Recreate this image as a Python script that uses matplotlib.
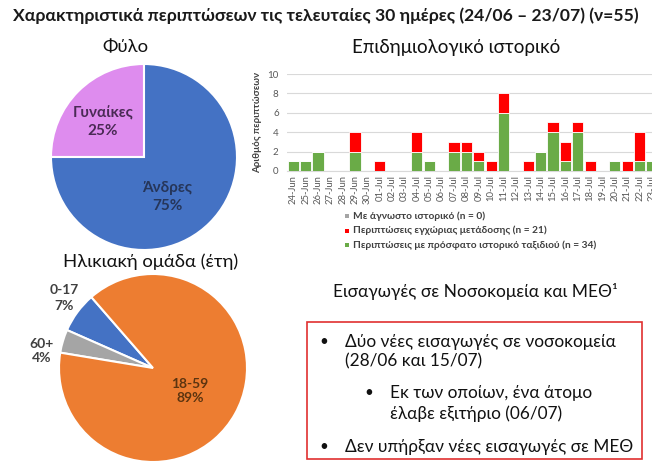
import matplotlib
matplotlib.use("Agg")
import matplotlib.pyplot as plt
from matplotlib.patches import Rectangle
import numpy as np

plt.rcParams['font.family'] = ['Lato', 'Noto Sans', 'DejaVu Sans']

# ---------------- data ----------------
title = "Χαρακτηριστικά περιπτώσεων τις τελευταίες 30 ημέρες (24/06 – 23/07) (ν=55)"

sex_labels = ["Γυναίκες", "Άνδρες"]
sex_values = [25, 75]

age_labels = ["0-17", "60+", "18-59"]
age_values = [7, 4, 89]

dates = ["24-Jun", "25-Jun", "26-Jun", "27-Jun", "28-Jun", "29-Jun", "30-Jun",
         "01-Jul", "02-Jul", "03-Jul", "04-Jul", "05-Jul", "06-Jul", "07-Jul",
         "08-Jul", "09-Jul", "10-Jul", "11-Jul", "12-Jul", "13-Jul", "14-Jul",
         "15-Jul", "16-Jul", "17-Jul", "18-Jul", "19-Jul", "20-Jul", "21-Jul",
         "22-Jul", "23-Jul"]
travel = [1, 1, 2, 0, 0, 2, 0, 0, 0, 0, 2, 1, 0, 2, 2, 1, 0, 6, 0, 0, 2, 4, 1, 4, 0, 0, 1, 0, 1, 1]
local = [0, 0, 0, 0, 0, 2, 0, 1, 0, 0, 2, 0, 0, 1, 1, 1, 1, 2, 0, 1, 0, 1, 2, 1, 1, 0, 0, 1, 3, 0]
unknown = [0] * 30
legend_labels = ["Με άγνωστο ιστορικό (n = 0)",
                 "Περιπτώσεις εγχώριας μετάδοσης (n = 21)",
                 "Περιπτώσεις με πρόσφατο ιστορικό ταξιδιού (n = 34)"]

W, H = 652, 467
fig = plt.figure(figsize=(W / 100, H / 100), dpi=100)


def fx(x):
    return x / W


def fy(y):
    return 1 - y / H


def pax(cx, cy, r):
    return fig.add_axes([fx(cx - r), fy(cy + r), 2 * r / W, 2 * r / H])


# title
fig.text(fx(326), fy(16), title, ha='center', va='center', fontsize=12.6,
         fontweight='bold', color='#1a1a1a')

# ---------------- sex pie ----------------
fig.text(fx(125), fy(47), "Φύλο", ha='center', va='center', fontsize=13.3, color='#111111')
ax1 = pax(144, 157, 93)
ax1.pie(sex_values, colors=['#DE8CEE', '#4472C4'], startangle=90, counterclock=True,
        wedgeprops=dict(edgecolor='white', linewidth=1.5))
ax1.set_xlim(-1, 1); ax1.set_ylim(-1, 1)
fig.text(fx(103), fy(122), f"{sex_labels[0]}\n{sex_values[0]}%", ha='center', va='center',
         fontsize=11, fontweight='bold', color='#4A2A55', linespacing=1.3)
fig.text(fx(167), fy(197), f"{sex_labels[1]}\n{sex_values[1]}%", ha='center', va='center',
         fontsize=11, fontweight='bold', color='#26365A', linespacing=1.3)

# ---------------- age pie ----------------
fig.text(fx(151), fy(262), "Ηλικιακή ομάδα (έτη)", ha='center', va='center', fontsize=13.3,
         color='#111111')
ax2 = pax(153, 368, 94)
ax2.pie(age_values, colors=['#4472C4', '#A5A5A5', '#ED7D31'], startangle=131, counterclock=True,
        wedgeprops=dict(edgecolor='white', linewidth=1.5))
ax2.set_xlim(-1, 1); ax2.set_ylim(-1, 1)
fig.text(fx(64), fy(298), f"{age_labels[0]}\n{age_values[0]}%", ha='center', va='center',
         fontsize=10, fontweight='bold', color='#404040', linespacing=1.3)
fig.text(fx(42), fy(351), f"{age_labels[1]}\n{age_values[1]}%", ha='center', va='center',
         fontsize=10, fontweight='bold', color='#404040', linespacing=1.3)
fig.text(fx(190), fy(391), f"{age_labels[2]}\n{age_values[2]}%", ha='center', va='center',
         fontsize=10, fontweight='bold', color='#5B3410', linespacing=1.3)

# ---------------- bar chart ----------------
fig.text(fx(456), fy(47), "Επιδημιολογικό ιστορικό", ha='center', va='center', fontsize=13.5,
         color='#111111')
ax3 = fig.add_axes([fx(287), fy(171), (652 - 287) / W, 97 / H])
x = np.arange(len(dates))
t = np.array(travel); l = np.array(local); u = np.array(unknown)
ax3.bar(x, t, width=0.9, color='#6AAB47', edgecolor='white', linewidth=0.6, zorder=3)
ax3.bar(x, l, width=0.9, bottom=t, color='#FF0000', edgecolor='white', linewidth=0.6, zorder=3)
ax3.bar(x, u, width=0.9, bottom=t + l, color='#A5A5A5', zorder=3)
ax3.set_xlim(-0.5, 28.7)
ax3.set_ylim(0, 10)
ax3.set_yticks([0, 2, 4, 6, 8, 10])
ax3.set_xticks(x)
ax3.set_xticklabels(dates, rotation=90, fontsize=6.8, color='#595959')
ax3.tick_params(axis='y', labelsize=7, colors='#595959', length=0, pad=6)
ax3.tick_params(axis='x', length=0, pad=3)
ax3.grid(axis='y', color='#D9D9D9', linewidth=0.8, zorder=0)
for s in ['top', 'right', 'left']:
    ax3.spines[s].set_visible(False)
ax3.spines['bottom'].set_color('#D9D9D9')
ax3.set_ylabel("Αριθμός περιπτώσεων", fontsize=7, fontweight='bold', color='#404040', labelpad=4)

# legend
leg_colors = ['#A5A5A5', '#FF0000', '#6AAB47']
for i, (lab, c) in enumerate(zip(legend_labels, leg_colors)):
    yy = 216 + i * 14.5
    fig.patches.append(Rectangle((fx(345), fy(yy + 2)), 4 / W, 4 / H, transform=fig.transFigure,
                                 facecolor=c, edgecolor='none'))
    fig.text(fx(353), fy(yy), lab, ha='left', va='center', fontsize=7.3, fontweight='bold',
             color='#404040')

# ---------------- hospital box ----------------
fig.text(fx(333), fy(292), "Εισαγωγές σε Νοσοκομεία και ΜΕΘ¹", ha='left', va='center',
         fontsize=12.5, color='#111111')
fig.patches.append(Rectangle((fx(307), fy(459)), (642 - 307) / W, (459 - 322) / H,
                             transform=fig.transFigure, facecolor='none', edgecolor='#E03030',
                             linewidth=1.2))
lines = [
    (319, 345, 342, "Δύο νέες εισαγωγές σε νοσοκομεία"),
    (None, 345, 361, "(28/06 και 15/07)"),
    (364, 390, 393, "Εκ των οποίων, ένα άτομο"),
    (None, 390, 414, "έλαβε εξιτήριο (06/07)"),
    (319, 345, 447, "Δεν υπήρξαν νέες εισαγωγές σε ΜΕΘ"),
]
for bx, tx, yy, s in lines:
    if bx is not None:
        fig.text(fx(bx), fy(yy), "•", ha='left', va='center', fontsize=11, color='#111111')
    fig.text(fx(tx), fy(yy), s, ha='left', va='center', fontsize=12.4, color='#111111')

fig.savefig("out.png", dpi=100)
